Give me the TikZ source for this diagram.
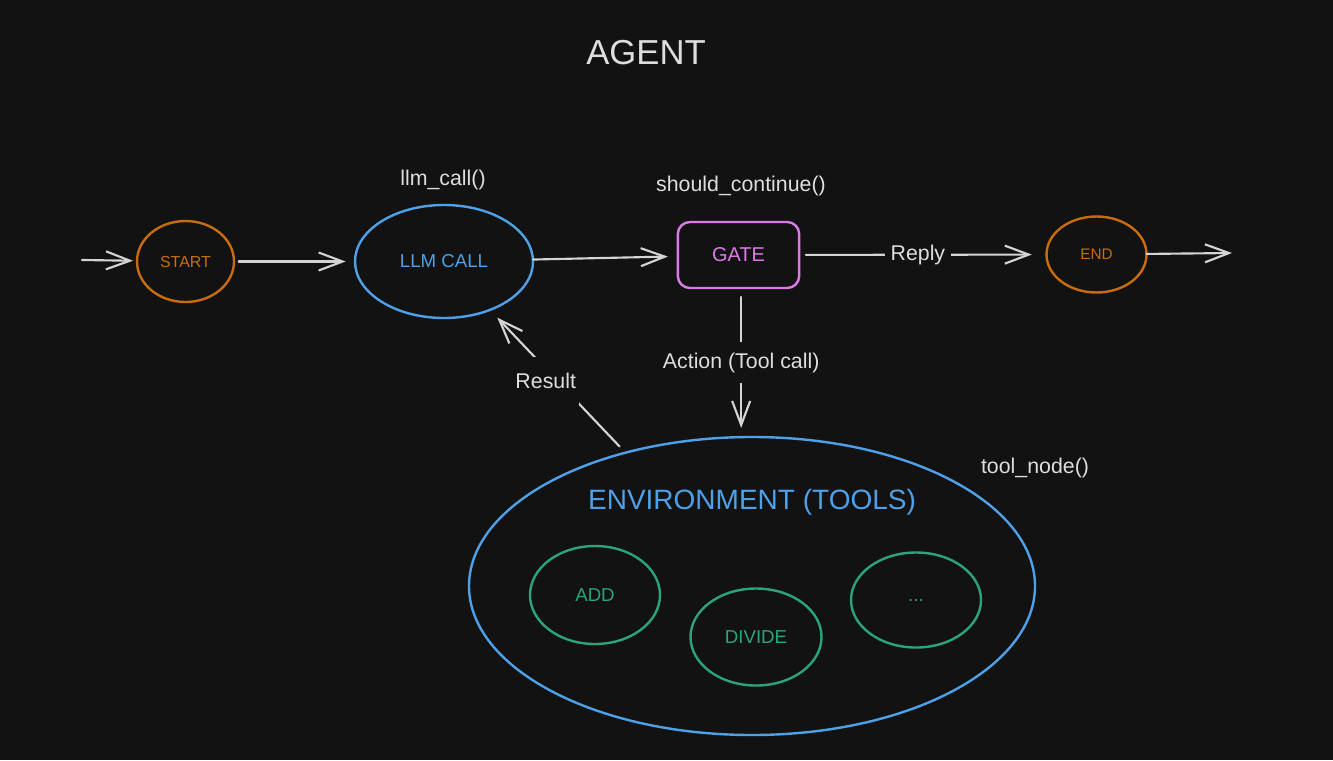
\documentclass[tikz,border=0pt]{standalone}
\usepackage{fontspec}
\setmainfont{Liberation Sans}
\usetikzlibrary{shapes.geometric,arrows.meta}
\definecolor{bg}{RGB}{18,18,18}
\definecolor{ink}{RGB}{222,222,222}
\definecolor{linecol}{RGB}{212,212,212}
\definecolor{orng}{RGB}{200,108,14}
\definecolor{blu}{RGB}{78,160,232}
\definecolor{pnk}{RGB}{220,122,232}
\definecolor{grn}{RGB}{44,164,122}
\tikzset{
  lbl/.style={text=ink,font=\fontsize{16}{19}\selectfont},
  gap/.style={lbl,fill=bg,inner xsep=3pt,inner ysep=9pt},
  oval/.style={ellipse,draw,line width=1.8pt,inner sep=0pt,outer sep=0pt},
  conn/.style={draw=linecol,line width=1.6pt,line cap=round,
    -{Straight Barb[length=18pt,width=13.5pt,line width=1.6pt]}}
}
\begin{document}
\begin{tikzpicture}[x=0.75pt,y=-0.75pt]
\fill[bg] (0,0) rectangle (1333,760);
\useasboundingbox (0,0) rectangle (1333,760);

% title
\node[text=ink,font=\fontsize{26}{30}\selectfont] (title) at (646,53) {AGENT};

% main nodes
\node[oval,draw=orng,text=orng,minimum width=72.75pt,minimum height=60.75pt,
  font=\fontsize{12}{14}\selectfont] (start) at (185.5,261.5) {START};
\node[oval,draw=blu,text=blu,minimum width=133.5pt,minimum height=84.75pt,
  font=\fontsize{14}{16}\selectfont] (llm) at (444,261.5) {LLM CALL};
\node[draw=pnk,text=pnk,line width=1.8pt,rounded corners=9pt,minimum width=91pt,
  minimum height=49.5pt,inner sep=0pt,outer sep=0pt,
  font=\fontsize{15}{17}\selectfont] (gate) at (738.5,255) {GATE};
\node[oval,draw=orng,text=orng,minimum width=75pt,minimum height=57pt,
  font=\fontsize{11.5}{13}\selectfont] (end) at (1096.5,254.5) {END};

% environment
\node[oval,draw=blu,minimum width=424.5pt,minimum height=223.5pt] (env) at (752,586) {};
\node[text=blu,font=\fontsize{21}{24}\selectfont] (envtitle) at (752,502) {ENVIRONMENT (TOOLS)};
\node[oval,draw=grn,text=grn,minimum width=97.5pt,minimum height=73.5pt,
  font=\fontsize{14}{16}\selectfont] (add) at (595,595) {ADD};
\node[oval,draw=grn,text=grn,minimum width=98.25pt,minimum height=72.75pt,
  font=\fontsize{14}{16}\selectfont] (divide) at (756,637) {DIVIDE};
\node[oval,draw=grn,text=grn,minimum width=97.5pt,minimum height=71.25pt,
  font=\fontsize{14}{16}\selectfont] (more) at (916,600) {...};

% function labels
\node[lbl] (llmlbl) at (443,180) {llm\_call()};
\node[lbl] (gatelbl) at (741,186) {should\_continue()};
\node[lbl] (envlbl) at (1035,468) {tool\_node()};

% connectors
\coordinate (inA) at (82,260);
\coordinate (outA) at (1232,253);
\draw[conn,shorten >=3pt] (inA) -- (start);
\draw[conn,shorten <=3.5pt,shorten >=7pt] (start) -- (llm);
\draw[conn,shorten >=7.5pt] (llm) -- (gate);
\draw[conn,shorten <=5pt,shorten >=11pt] (gate) -- node[gap,pos=0.48,inner xsep=4pt,inner ysep=5pt] (replylbl) {Reply} (end);
\draw[conn] (end) -- (outA);
\draw[conn,shorten <=6.75pt,shorten >=6.75pt] ([xshift=2pt]gate.south) -- node[gap,pos=0.5,inner xsep=2pt,inner ysep=8pt] (actlbl) {Action (Tool call)} ([xshift=2pt]gate.south |- env.north);
\draw[conn,shorten <=6.5pt,shorten >=8pt] (env) -- node[gap,pos=0.5,xshift=-9pt,inner xsep=2pt,inner ysep=12pt] (reslbl) {Result} (llm);
\end{tikzpicture}
\end{document}
